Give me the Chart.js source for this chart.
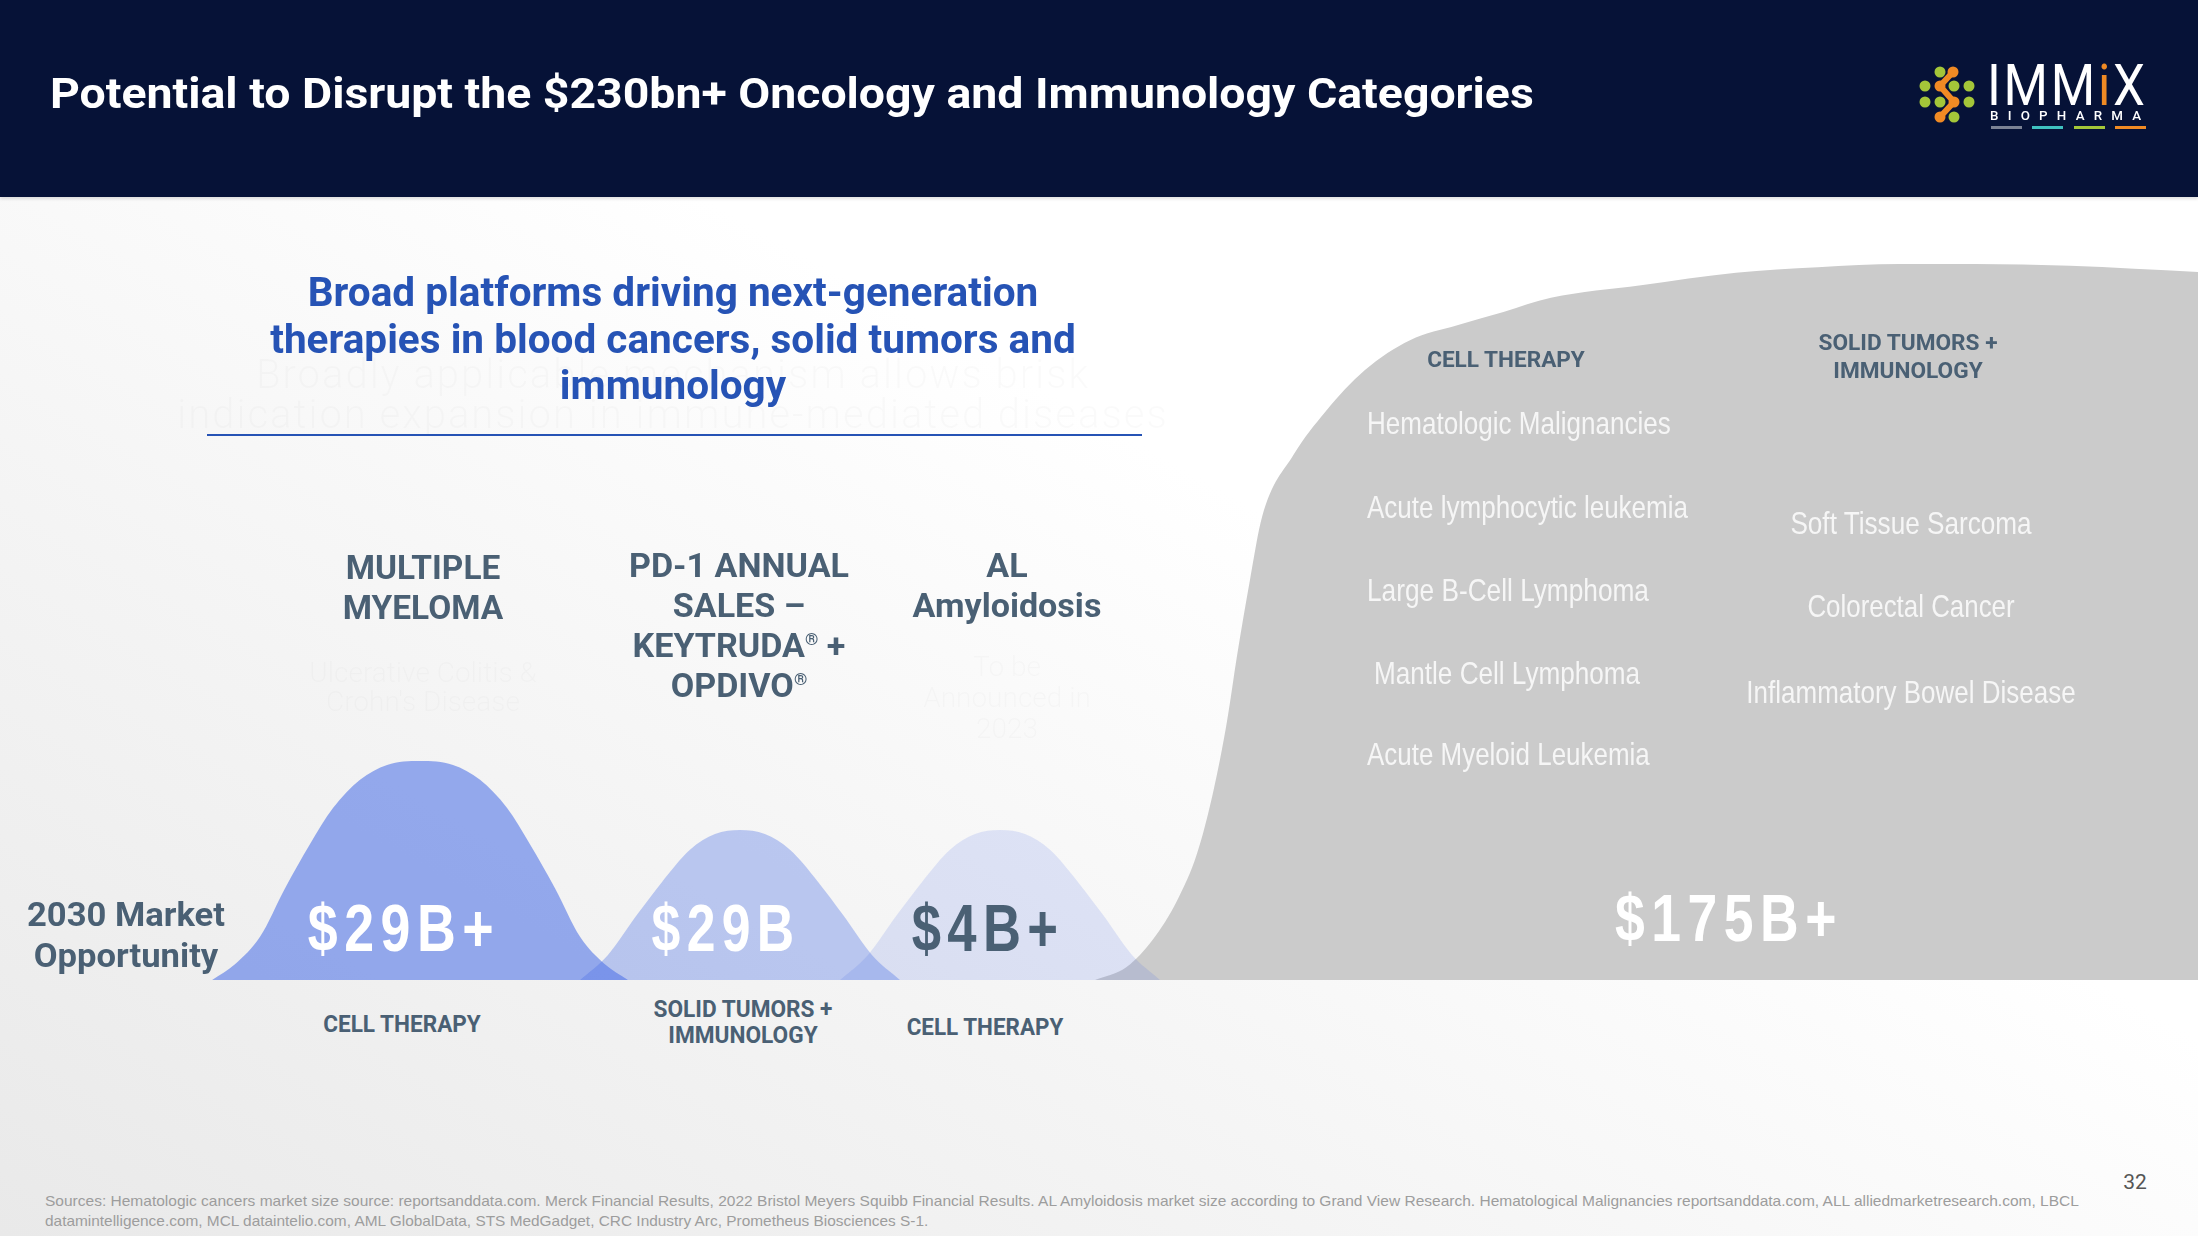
<!DOCTYPE html>
<html>
<head>
<meta charset="utf-8">
<title>Potential to Disrupt</title>
<script src="https://cdn.jsdelivr.net/npm/chart.js@4.4.0/dist/chart.umd.min.js"></script>
<style>
  html, body { margin: 0; padding: 0; }
  body {
    width: 2198px; height: 1236px; overflow: hidden; position: relative;
    background: linear-gradient(to top right, #e9e9e9 0%, #f4f4f4 30%, #ffffff 58%, #ffffff 100%);
    font-family: Roboto, "Liberation Sans", sans-serif;
  }
  .header {
    position: absolute; left: 0; top: 0; width: 2198px; height: 197px;
    background: #061237; box-shadow: 0 2px 3px rgba(0,0,0,0.12); z-index: 3;
  }
  .t { position: absolute; white-space: pre; z-index: 4; }
  .ctr { text-align: center; transform: translateX(-50%); }
  .lft { transform-origin: left center; }
  sup { font-size: 0.5em; vertical-align: 0.75em; line-height: 0; }
  #marketChart { position: absolute; left: 0; top: 195px; z-index: 1; }
  .title { left: 50px; top: 66px; font-size: 43px; line-height: 54px; font-weight: 700; color: #fff; }
  .sub { left: 673px; top: 270px; font-size: 40px; line-height: 46.5px; font-weight: 700; color: #2653b5; }
  .ghost { color: rgba(0,0,0,0.018); font-weight: 300; }
  .col { font-size: 33px; line-height: 40px; font-weight: 700; color: #4a6074; }
  .small { font-size: 23px; line-height: 27px; font-weight: 700; color: #4a6074; }
  .val { font-family: "Liberation Sans", Arial, sans-serif; font-weight: 700; font-size: 66px; line-height: 70px; letter-spacing: 8px; color: #fff; }
  .item { font-family: "Liberation Sans Narrow", "Liberation Sans", Arial, sans-serif; font-size: 32px; line-height: 38px; color: #f6f6f6; }
  .src { font-family: "Liberation Sans Narrow", "Liberation Sans", Arial, sans-serif; font-size: 15px; line-height: 20px; color: #9d9d9d; left: 45px; }
</style>
</head>
<body>
<div class="header"></div>
<div class="t title lft" data-w="1483">Potential to Disrupt the $230bn+ Oncology and Immunology Categories</div>

<!-- logo -->
<svg style="position:absolute;left:0;top:0;z-index:5" width="2198" height="197">
  <polyline points="1953,72 1940,86 1954,102 1940,117" fill="none" stroke="#f08a24" stroke-width="6" stroke-linecap="round" stroke-linejoin="round"/>
  <g fill="#a4c639">
    <circle cx="1940" cy="72" r="5.5"/>
    <circle cx="1925" cy="86" r="5.5"/><circle cx="1954" cy="86" r="5.5"/><circle cx="1969" cy="86" r="5.5"/>
    <circle cx="1925" cy="102" r="5.5"/><circle cx="1940" cy="102" r="5.5"/><circle cx="1969" cy="102" r="5.5"/>
    <circle cx="1954" cy="117" r="5.5"/>
  </g>
  <g fill="#f08a24">
    <circle cx="1953" cy="72" r="5.5"/><circle cx="1940" cy="86" r="5.5"/>
    <circle cx="1954" cy="102" r="5.5"/><circle cx="1940" cy="117" r="5.5"/>
  </g>
  <rect x="1991" y="126" width="31" height="3" fill="#7b8294"/>
  <rect x="2032" y="126" width="31" height="3" fill="#3fc1c0"/>
  <rect x="2074" y="126" width="31" height="3" fill="#a4c639"/>
  <rect x="2115" y="126" width="31" height="3" fill="#f08a24"/>
</svg>
<div class="t lft" data-w="161" style="left:1987px;top:56px;font-size:57px;line-height:60px;font-weight:400;color:#fff;letter-spacing:3px;z-index:6">IMM<span style="color:#f08a24">i</span>X</div>
<div class="t lft" data-w="160" style="left:1990px;top:108px;font-size:13px;line-height:16px;font-weight:500;color:#fff;letter-spacing:9px;z-index:6">BIOPHARMA</div>

<!-- subtitle block -->
<div class="t ctr ghost" style="left:673px;top:355px;font-size:40px;line-height:40px;letter-spacing:2px">Broadly applicable mechanism allows brisk
indication expansion in immune-mediated diseases</div>
<div class="t sub ctr" data-w="805">Broad platforms driving next-generation
therapies in blood cancers, solid tumors and
immunology</div>
<div style="position:absolute;left:207px;top:434px;width:935px;height:2px;background:#2653b5;z-index:4"></div>

<!-- column headers -->
<div class="t ctr col" data-w="160" style="left:423px;top:548px">MULTIPLE
MYELOMA</div>
<div class="t ctr col" data-w="220" style="left:739px;top:546px">PD-1 ANNUAL
SALES –
KEYTRUDA<sup>®</sup> +
OPDIVO<sup>®</sup></div>
<div class="t ctr col" data-w="189" style="left:1007px;top:546px">AL
Amyloidosis</div>
<div class="t ctr ghost" style="left:423px;top:658px;font-size:28px;line-height:29px">Ulcerative Colitis &amp;
Crohn's Disease</div>
<div class="t ctr ghost" style="left:1007px;top:651px;font-size:28px;line-height:31px">To be
Announced in
2023</div>

<div class="t ctr col" data-w="198" style="left:126px;top:894px;line-height:41px">2030 Market
Opportunity</div>

<!-- value labels (text from marketValues) -->
<div class="t ctr val" id="val0" data-w="192" style="left:404px;top:893px"></div>
<div class="t ctr val" id="val1" data-w="149" style="left:726px;top:893px"></div>
<div class="t ctr val" id="val2" data-w="153" style="left:988px;top:893px;color:#4a6074"></div>
<div class="t ctr val" id="val3" data-w="228" style="left:1729px;top:883px"></div>

<!-- labels under the curves -->
<div class="t ctr small" data-w="158" style="left:402px;top:1011px">CELL THERAPY</div>
<div class="t ctr small" data-w="179" style="left:743px;top:997px;line-height:26px">SOLID TUMORS +
IMMUNOLOGY</div>
<div class="t ctr small" data-w="157" style="left:985px;top:1014px">CELL THERAPY</div>

<!-- inside the grey area -->
<div class="t ctr small" data-w="158" style="left:1506px;top:346px;font-size:22px">CELL THERAPY</div>
<div class="t ctr small" data-w="179" style="left:1908px;top:329px;font-size:22px;line-height:28px">SOLID TUMORS +
IMMUNOLOGY</div>
<div class="t lft item" data-w="304" style="left:1367px;top:404px">Hematologic Malignancies</div>
<div class="t lft item" data-w="321" style="left:1367px;top:488px">Acute lymphocytic leukemia</div>
<div class="t lft item" data-w="282" style="left:1367px;top:571px">Large B-Cell Lymphoma</div>
<div class="t lft item" data-w="266" style="left:1374px;top:654px">Mantle Cell Lymphoma</div>
<div class="t lft item" data-w="283" style="left:1367px;top:735px">Acute Myeloid Leukemia</div>
<div class="t ctr item" data-w="241" style="left:1911px;top:504px">Soft Tissue Sarcoma</div>
<div class="t ctr item" data-w="207" style="left:1911px;top:587px">Colorectal Cancer</div>
<div class="t ctr item" data-w="329" style="left:1911px;top:673px">Inflammatory Bowel Disease</div>

<!-- footer -->
<div class="t ctr" style="left:2135px;top:1169px;font-size:21px;line-height:26px;color:#555">32</div>
<div class="t src lft" data-w="2034" style="top:1191px">Sources: Hematologic cancers market size source: reportsanddata.com. Merck Financial Results, 2022 Bristol Meyers Squibb Financial Results. AL Amyloidosis market size according to Grand View Research. Hematological Malignancies reportsanddata.com, ALL alliedmarketresearch.com, LBCL</div>
<div class="t src lft" data-w="883" style="top:1211px">datamintelligence.com, MCL dataintelio.com, AML GlobalData, STS MedGadget, CRC Industry Arc, Prometheus Biosciences S-1.</div>

<canvas id="marketChart" width="2198" height="785"></canvas>

<script>
// 2030 market opportunity, US$ bn
const marketNames = ['Multiple Myeloma', 'PD-1 annual sales', 'AL Amyloidosis', 'Cell therapy + Solid tumors / Immunology'];
const marketValues = [29, 29, 4, 175];
const marketPlus = [true, false, true, true];

// Curve outlines: x in % of slide width, height in % of plot height
const myelomaX = [9.65, 10.69, 11.83, 12.97, 14.10, 15.15, 16.38, 17.61, 19.11, 20.61, 21.84, 23.07, 24.11, 25.25, 26.39, 27.52, 28.57];
const myelomaH = [0, 2.0, 5.5, 11.7, 17.3, 21.9, 25.5, 27.4, 27.9, 27.4, 25.5, 21.9, 17.3, 11.7, 5.5, 2.0, 0];

const pd1X = [26.39, 27.66, 28.98, 30.12, 31.39, 32.53, 33.67, 34.80, 35.94, 37.22, 38.35, 39.67, 40.95];
const pd1H = [0, 3.2, 8.3, 12.5, 16.6, 18.6, 19.1, 18.6, 16.6, 12.5, 8.3, 3.2, 0];

const amyloidX = [38.22, 39.49, 40.81, 41.95, 43.22, 44.36, 45.50, 46.63, 47.77, 49.04, 50.18, 51.50, 52.78];
const amyloidH = [0, 3.2, 8.3, 12.5, 16.6, 18.6, 19.1, 18.6, 16.6, 12.5, 8.3, 3.2, 0];

const pipelineX = [49.82, 51.27, 52.46, 53.55, 54.46, 55.19, 55.82, 56.28, 56.87, 57.42, 58.85, 60.30, 62.10, 64.15, 66.30, 68.40, 70.56, 74.66, 78.98, 82.71, 86.44, 89.85, 94.18, 100];
const pipelineH = [0, 1.7, 5.2, 10.1, 16.1, 23.9, 32.9, 41.3, 51.0, 59.0, 66.9, 72.4, 77.7, 81.5, 83.4, 85.1, 86.9, 88.5, 90.1, 90.8, 91.2, 91.2, 91.0, 90.2];

function toPoints(xs, hs) {
    return xs.map((x, i) => ({ x: x, y: hs[i] }));
}

function curve(label, xs, hs, color) {
    return {
        label: label,
        data: toPoints(xs, hs),
        backgroundColor: color,
        borderWidth: 0,
        pointRadius: 0,
        fill: 'origin',
        cubicInterpolationMode: 'monotone'
    };
}

// index 0 is drawn on top, so the grey area goes last
new Chart(document.getElementById('marketChart'), {
    type: 'line',
    data: {
        datasets: [
            curve(marketNames[0], myelomaX, myelomaH, 'rgba(74, 111, 230, 0.57)'),
            curve(marketNames[1], pd1X, pd1H, 'rgba(74, 111, 230, 0.35)'),
            curve(marketNames[2], amyloidX, amyloidH, 'rgba(74, 111, 230, 0.155)'),
            curve(marketNames[3], pipelineX, pipelineH, '#cbcbcb')
        ]
    },
    options: {
        responsive: false,
        animation: false,
        layout: { padding: 0 },
        scales: {
            x: { type: 'linear', min: 0, max: 100, display: false },
            y: { min: 0, max: 100, display: false }
        },
        plugins: {
            legend: { display: false },
            tooltip: { enabled: false }
        }
    }
});

// value labels come from the data
marketValues.forEach((v, i) => {
    document.getElementById('val' + i).textContent = '$' + v + 'B' + (marketPlus[i] ? '+' : '');
});

// squeeze/stretch each text line to the width it has on the slide
function fitTexts() {
    document.querySelectorAll('[data-w]').forEach(el => {
        const k = +el.dataset.w / el.offsetWidth;
        const base = el.classList.contains('ctr') ? 'translateX(-50%) ' : '';
        el.style.transform = base + 'scaleX(' + k.toFixed(3) + ')';
    });
}
document.fonts.ready.then(fitTexts);
</script>
</body>
</html>
